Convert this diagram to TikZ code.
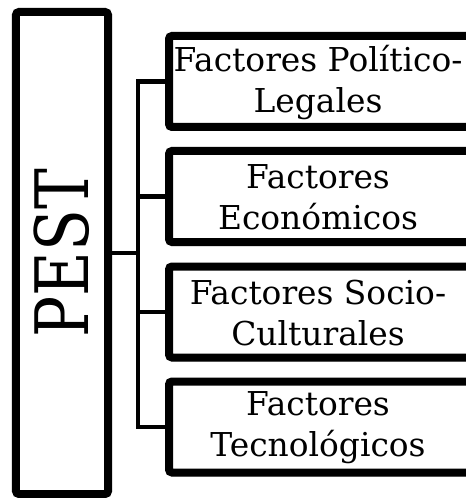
\documentclass[tikz,border=0pt]{standalone}
\usepackage{fontspec}
\setmainfont{DejaVu Serif}
\usetikzlibrary{shadows}
\begin{document}
\begin{tikzpicture}[x=1bp,y=-1bp,
  boxline/.style={draw=black, line width=8bp, fill=white, rounded corners=3bp,
    drop shadow={shadow xshift=0bp, shadow yshift=-4bp, fill=black!30, opacity=0.45}},
  conn/.style={draw=black, line width=4.5bp},
  factor/.style={boxline, minimum width=316bp, minimum height=91bp, inner sep=0pt},
  factortext/.style={align=center, font=\fontsize{33}{41}\selectfont, inner sep=0pt},
  pestbox/.style={boxline, minimum width=92bp, minimum height=482bp, inner sep=0pt,
    font=\fontsize{74}{80}\selectfont}]
\useasboundingbox (0,0) rectangle (466,498);
\clip (0,0) rectangle (466,498);
\node[pestbox] (pest) at (62,253) {\rotatebox{90}{\scalebox{0.83}[1]{PEST}}};
\node[factor] (f1) at (327,81.5) {};
\node[factor] (f2) at (327,196.5) {};
\node[factor] (f3) at (327,312) {};
\node[factor] (f4) at (327,427) {};
\node[factortext] (t1) at (318,82.5) {Factores Político-\\Legales};
\node[factortext] (t2) at (318,197.5) {Factores\\Económicos};
\node[factortext] (t3) at (318,313) {Factores Socio-\\Culturales};
\node[factortext] (t4) at (318,428) {Factores\\Tecnológicos};
\coordinate (j) at (138,253);
\draw[conn] (pest.east) -- (j);
\draw[conn] (f1.west) -| (j);
\draw[conn] (f4.west) -| (j);
\draw[conn] (f2.west) -- (f2.west -| j);
\draw[conn] (f3.west) -- (f3.west -| j);
\end{tikzpicture}
\end{document}
